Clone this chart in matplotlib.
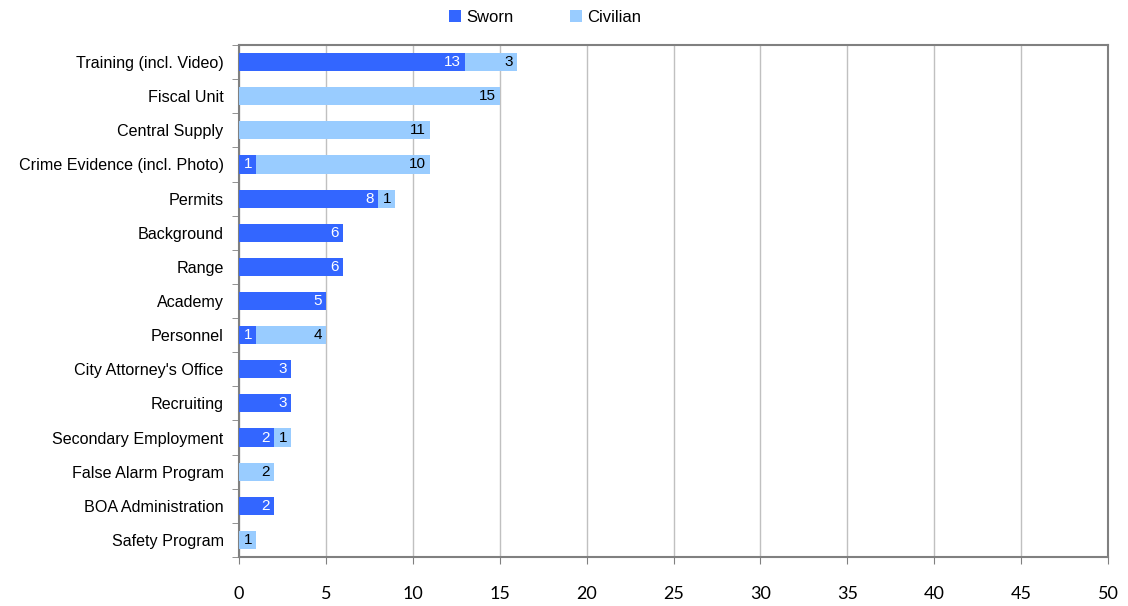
import numpy as np
import matplotlib
matplotlib.use('Agg')
import matplotlib.pyplot as plt

# Chart data
categories = ['Training (incl. Video)', 'Fiscal Unit', 'Central Supply',
              'Crime Evidence (incl. Photo)', 'Permits', 'Background', 'Range',
              'Academy', 'Personnel', "City Attorney's Office", 'Recruiting',
              'Secondary Employment', 'False Alarm Program', 'BOA Administration',
              'Safety Program']
sworn = [13, 0, 0, 1, 8, 6, 6, 5, 1, 3, 3, 2, 0, 2, 0]
civilian = [3, 15, 11, 10, 1, 0, 0, 0, 4, 0, 0, 1, 2, 0, 1]
x_ticks = [0, 5, 10, 15, 20, 25, 30, 35, 40, 45, 50]

sworn_color = '#3366FF'
civ_color = '#99CCFF'

plt.rcParams['font.family'] = ['Liberation Sans', 'DejaVu Sans']

fig = plt.figure(figsize=(11.28, 6.06), dpi=100)
ax = fig.add_axes([239/1128, 1 - 557/606, (1108-239)/1128, (557-45)/606])

y = np.arange(len(categories))
sworn = np.array(sworn)
civilian = np.array(civilian)

b1 = ax.barh(y, sworn, height=0.53, color=sworn_color, label='Sworn', zorder=3)
b2 = ax.barh(y, civilian, left=sworn, height=0.53, color=civ_color, label='Civilian', zorder=3)

# value labels just inside the end of each segment
for i in range(len(categories)):
    if sworn[i] > 0:
        ax.annotate(str(sworn[i]), (sworn[i], y[i]), xytext=(-3, 0),
                    textcoords='offset points', ha='right', va='center',
                    color='white', fontsize=11, zorder=4)
    if civilian[i] > 0:
        ax.annotate(str(civilian[i]), (sworn[i] + civilian[i], y[i]), xytext=(-3, 0),
                    textcoords='offset points', ha='right', va='center',
                    color='black', fontsize=11, zorder=4)

ax.set_xlim(0, 50)
ax.set_ylim(len(categories) - 0.5, -0.5)

ax.set_xticks(x_ticks)
ax.set_xticklabels([str(t) for t in x_ticks], family=['Lato', 'DejaVu Sans'], fontsize=13)
ax.tick_params(axis='x', length=5, color='#808080', pad=16)

ax.set_yticks(y)
ax.set_yticklabels(categories, fontsize=11.6)
ax.set_yticks(np.arange(len(categories) + 1) - 0.5, minor=True)
ax.tick_params(axis='y', which='major', length=0, pad=11)
ax.tick_params(axis='y', which='minor', length=5, color='#808080')

ax.grid(axis='x', color='#C0C0C0', linewidth=1, zorder=0)
for s in ax.spines.values():
    s.set_color('#808080')
    s.set_linewidth(1.5)

fig.legend(handles=[b1, b2], loc='center', bbox_to_anchor=(545/1128, 1 - 17/606),
           ncol=2, frameon=False, fontsize=12, handlelength=0.75, handleheight=0.75,
           handletextpad=0.3, columnspacing=3.4)

fig.savefig('out.png', dpi=100)
